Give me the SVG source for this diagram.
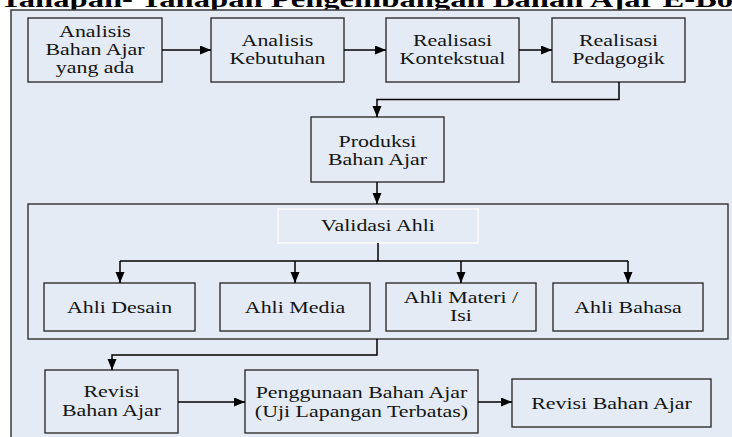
<svg xmlns="http://www.w3.org/2000/svg" width="732" height="437" viewBox="0 0 732 437">
<style>
.bg{fill:#ffffff}
.frame{fill:#E4EBF5;stroke:#3a3a3a;stroke-width:1.5}
.box{fill:#E4EBF5;stroke:#2f2f2f;stroke-width:1.4}
.vbox{fill:#E4EBF5;stroke:#fbfbfb;stroke-width:1.6}
.t{font-family:"Liberation Serif","Times New Roman",serif;font-size:16px;fill:#141414;text-anchor:middle}
.title{font-family:"Liberation Serif","Times New Roman",serif;font-size:24px;font-weight:bold;fill:#000}
.c{fill:none;stroke:#000;stroke-width:1.5}
</style>
<defs>
<marker id="ah" markerUnits="userSpaceOnUse" markerWidth="12" markerHeight="10" refX="11" refY="4.5" orient="auto">
<path d="M0,0 L11,4.5 L0,9 z" fill="#000"/>
</marker>
</defs>
<rect class="bg" x="0" y="0" width="732" height="437"/>
<text class="title" transform="scale(1.36,1)" x="0" y="7">Tahapan- Tahapan Pengembangan Bahan Ajar E-Book</text>
<rect class="frame" x="11" y="10" width="730" height="436"/>

<g id="n1"><rect class="box" x="28" y="18" width="134" height="64"/>
<g transform="translate(95,0) scale(1.37,1)"><text class="t" x="0" y="37">Analisis</text><text class="t" x="0" y="55">Bahan Ajar</text><text class="t" x="0" y="73">yang ada</text></g></g>

<g id="n2"><rect class="box" x="211" y="18" width="133" height="64"/>
<g transform="translate(277.5,0) scale(1.37,1)"><text class="t" x="0" y="46">Analisis</text><text class="t" x="0" y="64">Kebutuhan</text></g></g>

<g id="n3"><rect class="box" x="386" y="18" width="133" height="64"/>
<g transform="translate(452.5,0) scale(1.37,1)"><text class="t" x="0" y="46">Realisasi</text><text class="t" x="0" y="64">Kontekstual</text></g></g>

<g id="n4"><rect class="box" x="552" y="18" width="133" height="64"/>
<g transform="translate(618.5,0) scale(1.37,1)"><text class="t" x="0" y="46">Realisasi</text><text class="t" x="0" y="64">Pedagogik</text></g></g>

<g id="n5"><rect class="box" x="311" y="117" width="133" height="65"/>
<g transform="translate(377.5,0) scale(1.37,1)"><text class="t" x="0" y="147">Produksi</text><text class="t" x="0" y="165">Bahan Ajar</text></g></g>

<g id="validasi"><rect class="box" x="28" y="204" width="700" height="135"/>
<rect class="vbox" x="278" y="209" width="200" height="34"/>
<g transform="translate(378,0) scale(1.37,1)"><text class="t" x="0" y="231">Validasi Ahli</text></g></g>

<g id="n6"><rect class="box" x="44" y="283" width="151" height="48"/>
<g transform="translate(119.5,0) scale(1.37,1)"><text class="t" x="0" y="313">Ahli Desain</text></g></g>

<g id="n7"><rect class="box" x="220" y="283" width="150" height="48"/>
<g transform="translate(295,0) scale(1.37,1)"><text class="t" x="0" y="313">Ahli Media</text></g></g>

<g id="n8"><rect class="box" x="386" y="283" width="150" height="48"/>
<g transform="translate(461,0) scale(1.37,1)"><text class="t" x="0" y="303">Ahli Materi /</text><text class="t" x="0" y="321">Isi</text></g></g>

<g id="n9"><rect class="box" x="553" y="283" width="150" height="48"/>
<g transform="translate(628,0) scale(1.37,1)"><text class="t" x="0" y="313">Ahli Bahasa</text></g></g>

<g id="n10"><rect class="box" x="45" y="370" width="133" height="63"/>
<g transform="translate(111.5,0) scale(1.37,1)"><text class="t" x="0" y="397">Revisi</text><text class="t" x="0" y="416">Bahan Ajar</text></g></g>

<g id="n11"><rect class="box" x="245" y="370" width="233" height="63"/>
<g transform="translate(361.5,0) scale(1.37,1)"><text class="t" x="0" y="398">Penggunaan Bahan Ajar</text><text class="t" x="0" y="417">(Uji Lapangan Terbatas)</text></g></g>

<g id="n12"><rect class="box" x="512" y="379" width="199" height="48"/>
<g transform="translate(611.5,0) scale(1.37,1)"><text class="t" x="0" y="409">Revisi Bahan Ajar</text></g></g>

<g id="connectors">
<line class="c" x1="162" y1="50" x2="211" y2="50" marker-end="url(#ah)"/>
<line class="c" x1="344" y1="50" x2="386" y2="50" marker-end="url(#ah)"/>
<line class="c" x1="519" y1="50" x2="552" y2="50" marker-end="url(#ah)"/>
<polyline class="c" points="619,82 619,99.5 377,99.5 377,117" marker-end="url(#ah)"/>
<line class="c" x1="377" y1="182" x2="377" y2="204" marker-end="url(#ah)"/>
<line class="c" x1="378" y1="243" x2="378" y2="261"/>
<line class="c" x1="120" y1="261" x2="628" y2="261"/>
<line class="c" x1="120" y1="261" x2="120" y2="283" marker-end="url(#ah)"/>
<line class="c" x1="295" y1="261" x2="295" y2="283" marker-end="url(#ah)"/>
<line class="c" x1="461" y1="261" x2="461" y2="283" marker-end="url(#ah)"/>
<line class="c" x1="628" y1="261" x2="628" y2="283" marker-end="url(#ah)"/>
<polyline class="c" points="377,339 377,355 112,355 112,370" marker-end="url(#ah)"/>
<line class="c" x1="178" y1="402" x2="245" y2="402" marker-end="url(#ah)"/>
<line class="c" x1="478" y1="402" x2="512" y2="402" marker-end="url(#ah)"/>
</g>
</svg>
